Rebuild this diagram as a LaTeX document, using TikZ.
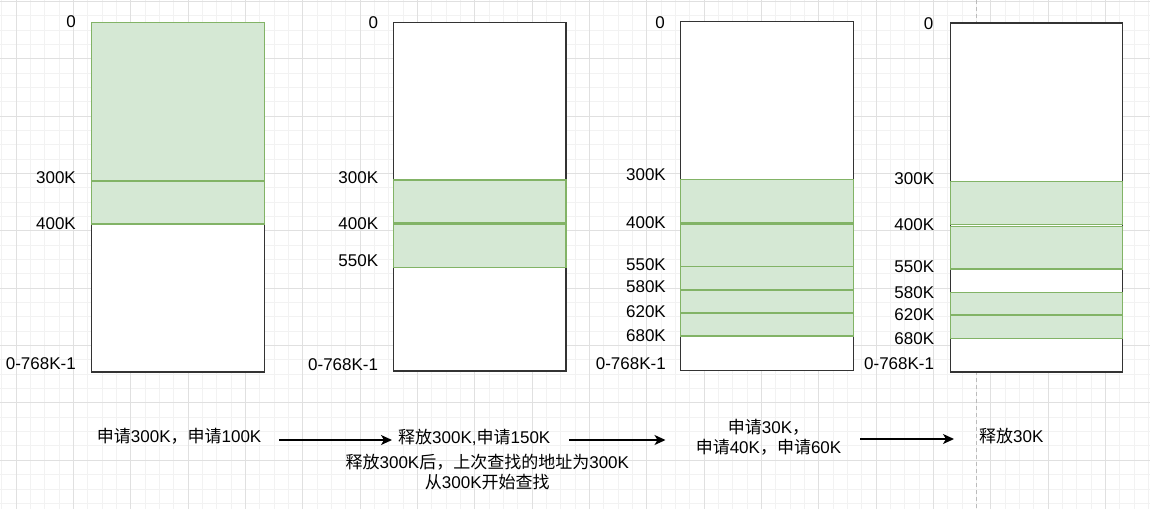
\documentclass[tikz,border=0pt]{standalone}
\usepackage{fontspec}
\setmainfont{Liberation Sans}
\newfontfamily\cjk{Noto Sans CJK SC}
\newcommand\zh[1]{{\cjk #1}}
\usetikzlibrary{arrows.meta}
\definecolor{gridminor}{HTML}{F2F2F2}
\definecolor{gridmajor}{HTML}{E0E0E0}
\definecolor{gfill}{HTML}{D5E8D4}
\definecolor{gline}{HTML}{82B366}
\definecolor{boxline}{HTML}{333333}
\definecolor{pageline}{HTML}{BBBBBB}
\tikzset{
  minorline/.style={draw=gridminor, line width=0.8pt},
  majorline/.style={draw=gridmajor, line width=0.9pt},
  membox/.style={draw=boxline, fill=white, line width=1.5pt},
  used/.style={draw=gline, fill=gfill, line width=1.5pt},
  addr/.style={anchor=east, inner sep=0pt, font=\fontsize{17}{20}\selectfont},
  note/.style={inner sep=0pt, font=\fontsize{17}{20}\selectfont, text height=0.88em, text depth=0.12em},
  flow/.style={draw=black, line width=1.5pt, -{Stealth[length=11pt,width=10pt,inset=3pt]}}
}
\begin{document}
\begin{tikzpicture}[x=1pt,y=-1pt]
\useasboundingbox (0,0) rectangle (1150,509);
\fill[white] (0,0) rectangle (1150,509);
% grid
\foreach \i in {0,...,80} { \draw[minorline] ({1.665+\i*14.335},0) -- ++(0,509); }
\foreach \i in {0,...,35} { \draw[minorline] (0,{1.5+\i*14.335}) -- ++(1150,0); }
\foreach \i in {0,...,19} { \draw[majorline] ({16+\i*57.34},0) -- ++(0,509); }
\foreach \i in {0,...,8} { \draw[majorline] (0,{1.5+\i*57.34}) -- ++(1150,0); }
% page break line
\draw[pageline, line width=1pt, dash pattern=on 4pt off 3pt] (976.7,0) -- (976.7,509);

% box 1
\draw[membox] (91.5,22.5) rectangle (264.3,372);
\draw[used] (91.5,22.5) rectangle (264.3,181);
\draw[used] (91.5,181) rectangle (264.3,224);
\node[addr] (b1l0) at (76,22) {0};
\node[addr] (b1l300) at (76,177.5) {300K};
\node[addr] (b1l400) at (76,224) {400K};
\node[addr] (b1lend) at (76,364) {0-768K-1};

% box 2
\draw[membox] (393.3,22.5) rectangle (566,371);
\draw[used] (393.3,180) rectangle (566,223);
\draw[used] (393.3,224.3) rectangle (566,267.3);
\node[addr] (b2l0) at (378.3,23) {0};
\node[addr] (b2l300) at (378.3,177.3) {300K};
\node[addr] (b2l400) at (378.3,224) {400K};
\node[addr] (b2l550) at (378.3,261) {550K};
\node[addr] (b2lend) at (378.3,364.3) {0-768K-1};

% box 3
\draw[membox] (680.7,21.5) rectangle (853.3,370.5);
\draw[used] (680.7,179.3) rectangle (853.3,222.3);
\draw[used] (680.7,224) rectangle (853.3,266.7);
\draw[used] (680.7,266.7) rectangle (853.3,290);
\draw[used] (680.7,290) rectangle (853.3,313);
\draw[used] (680.7,313) rectangle (853.3,336);
\node[addr] (b3l0) at (665,22.7) {0};
\node[addr] (b3l300) at (666,175) {300K};
\node[addr] (b3l400) at (666,223) {400K};
\node[addr] (b3l550) at (666,264.3) {550K};
\node[addr] (b3l580) at (666,286.7) {580K};
\node[addr] (b3l620) at (666,311.7) {620K};
\node[addr] (b3l680) at (666,335.7) {680K};
\node[addr] (b3lend) at (666,363.3) {0-768K-1};

% box 4
\draw[membox] (950.3,23) rectangle (1122.7,372);
\draw[used] (950.3,181.7) rectangle (1122.7,224.7);
\draw[used] (950.3,226.3) rectangle (1122.7,269);
\draw[used] (950.3,292.3) rectangle (1122.7,315);
\draw[used] (950.3,315) rectangle (1122.7,338.3);
\node[addr] (b4l0) at (933.5,24) {0};
\node[addr] (b4l300) at (934.3,179) {300K};
\node[addr] (b4l400) at (934.3,225) {400K};
\node[addr] (b4l550) at (934.3,266.7) {550K};
\node[addr] (b4l580) at (934.3,292.7) {580K};
\node[addr] (b4l620) at (934.3,314.3) {620K};
\node[addr] (b4l680) at (934.3,339) {680K};
\node[addr] (b4lend) at (934.3,363.3) {0-768K-1};

% step texts
\node[note, anchor=west] (t1) at (96.7,438.5) {\zh{申请}300K\zh{，申请}100K};
\node[note, anchor=west] (t2) at (398,440) {\zh{释放}300K,\zh{申请}150K};
\node[note] (t3a) at (487.3,465) {\zh{释放}300K\zh{后，上次查找的地址为}300K};
\node[note] (t3b) at (487.3,485) {\zh{从}300K\zh{开始查找}};
\node[note] (t4a) at (768.5,430) {\zh{申请}30K\zh{，}};
\node[note] (t4b) at (768.5,449.3) {\zh{申请}40K\zh{，申请}60K};
\node[note, anchor=west] (t5) at (979,439) {\zh{释放}30K};

% arrows
\coordinate (a1s) at (279,440);
\coordinate (a1e) at (392,440);
\coordinate (a2s) at (569,440);
\coordinate (a2e) at (665.5,440);
\coordinate (a3s) at (860,439);
\coordinate (a3e) at (954,439);
\draw[flow] (a1s) -- (a1e);
\draw[flow] (a2s) -- (a2e);
\draw[flow] (a3s) -- (a3e);
\end{tikzpicture}
\end{document}
